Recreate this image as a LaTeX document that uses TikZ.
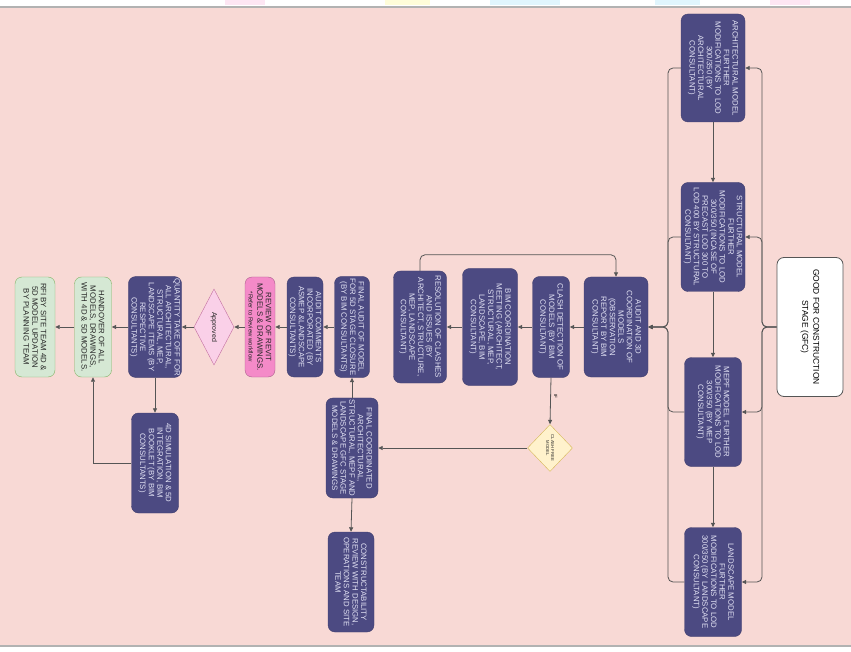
\documentclass[tikz,border=0pt]{standalone}
\usepackage{fontspec}
\setmainfont{Liberation Sans}
\usepackage{xcolor}
\usepackage{tikz}
\usetikzlibrary{shapes.geometric, arrows.meta}
\definecolor{bgpink}{RGB}{248, 217, 213}
\definecolor{navy}{RGB}{76, 74, 130}
\definecolor{navytext}{RGB}{226, 226, 244}
\definecolor{linegray}{RGB}{85, 85, 85}
\definecolor{revpink}{RGB}{244, 138, 200}
\definecolor{okpink}{RGB}{250, 208, 232}
\definecolor{handgreen}{RGB}{213, 232, 212}
\definecolor{handedge}{RGB}{130, 179, 102}
\definecolor{ifyellow}{RGB}{255, 242, 204}
\definecolor{ifedge}{RGB}{214, 182, 86}

\begin{document}
\begin{tikzpicture}[
    x=1pt, y=-1pt,
    box/.style={rectangle, rounded corners=7pt, rotate=-90, align=center,
                inner sep=1.5pt, font=\fontsize{7.8}{8.6}\selectfont},
    modelbox/.style={box, fill=navy, draw=navy!85!black, text=navytext},
    gfcbox/.style={box, fill=white, draw=linegray, thick, font=\fontsize{8.4}{11}\selectfont},
    reviewbox/.style={box, fill=revpink, draw=revpink!70!black, text=black!85},
    handbox/.style={box, fill=handgreen, draw=handedge, text=black!85},
    decision/.style={diamond, rotate=-90, align=center, inner sep=0pt, text=black!85},
    arrow/.style={-{Triangle[length=4.5pt, width=4pt]}, draw=linegray, line width=0.8pt},
]

% page background
\useasboundingbox (0,0) rectangle (851,652);
\fill[white] (0,0) rectangle (851,652);
\fill[cyan!12] (490,0) rectangle (560,5);
\fill[cyan!12] (655,0) rectangle (700,5);
\fill[magenta!10] (225,0) rectangle (265,5);
\fill[magenta!10] (770,0) rectangle (810,5);
\fill[yellow!15] (385,0) rectangle (430,5);
\fill[bgpink] (0,8) rectangle (851,645);
\draw[gray!60, line width=2pt] (0,7) -- (851,7);
\draw[gray!60, line width=2pt] (0,646) -- (851,646);

% models by consultants
\node[modelbox, minimum width=108pt, minimum height=64pt] (arch) at (713,68)
    {ARCHITECTURAL MODEL\\FURTHER\\MODIFICATIONS TO LOD\\300/350 (BY\\ARCHITECTURAL\\CONSULTANT)};
\node[modelbox, minimum width=109pt, minimum height=64pt] (struct) at (713,237)
    {STRUCTURAL MODEL\\FURTHER\\MODIFICATIONS TO LOD\\300/350 (INCASE OF\\PRECAST LOD 300 TO\\LOD 400 BY STRUCTURAL\\CONSULTANT)};
\node[modelbox, minimum width=109pt, minimum height=57pt] (mepf) at (713,412)
    {MEPF MODEL FURTHER\\MODIFICATIONS TO LOD\\300/350 (BY MEP\\CONSULTANT)};
\node[modelbox, minimum width=109pt, minimum height=57pt] (land) at (713,582)
    {LANDSCAPE MODEL\\FURTHER\\MODIFICATIONS TO LOD\\300/350 (BY LANDSCAPE\\CONSULTANT)};
\node[gfcbox, minimum width=139pt, minimum height=66pt] (gfc) at (810,327)
    {GOOD FOR CONSTRUCTION\\STAGE (GFC)};

% coordination loop
\node[modelbox, minimum width=100pt, minimum height=64pt] (audit) at (616,327)
    {AUDIT AND 3D\\COORDINATION OF\\MODELS\\(OBSERVATION\\REPORT BY BIM\\CONSULTANT)};
\node[modelbox, minimum width=101pt, minimum height=37pt] (clash) at (551,327)
    {CLASH DETECTION OF\\MODELS  (BY BIM\\CONSULTANT)};
\node[modelbox, minimum width=117pt, minimum height=55pt] (bimmeet) at (490,327)
    {BIM COORDINATION\\MEETING (ARCHITECT,\\STRUCTURAL, MEP,\\LANDSCAPE, BIM\\CONSULTANT)};
\node[modelbox, minimum width=112pt, minimum height=53pt] (resol) at (420,327)
    {RESOLUTION OF CLASHES\\AND ISSUES (BY\\ARCHITECT, STRUCTURE,\\MEP, LANDSCAPE\\CONSULTANT)};
\node[decision, fill=ifyellow, draw=ifedge, minimum width=47pt, minimum height=45pt,
      font=\fontsize{4.2}{5}\selectfont] (cfree) at (550,448) {CLASH FREE\\MODEL};

% closure and handover
\node[modelbox, minimum width=100pt, minimum height=52pt] (fcoord) at (352,448)
    {FINAL COORDINATED\\ARCHITECTURAL,\\STRUCTURAL, MEPF AND\\LANDSCAPE GFC STAGE\\MODELS \& DRAWINGS};
\node[modelbox, minimum width=100pt, minimum height=46pt] (construct) at (351,582)
    {CONSTRUCTABILITY\\REVIEW WITH DESIGN,\\OPERATIONS AND SITE\\TEAM};
\node[modelbox, minimum width=101pt, minimum height=35pt] (faudit) at (352,327)
    {FINAL AUDIT OF MODEL\\FOR 5D STAGE CLOSURE\\(BY BIM CONSULTANTS)};
\node[modelbox, minimum width=100pt, minimum height=36pt] (acomm) at (305,327)
    {AUDIT COMMENTS\\INCORPORATED (BY\\ASMEP \&LANDSCAPE\\CONSULTANTS)};
\node[reviewbox, minimum width=100pt, minimum height=30pt] (review) at (260,327)
    {REVIEW OF REVIT\\MODELS \& DRAWINGS.\\{\fontsize{6}{7}\selectfont *Refer to Review workflow}};
\node[decision, fill=okpink, draw=revpink!80!black, minimum width=76pt, minimum height=40pt,
      font=\fontsize{7}{8}\selectfont] (approved) at (214,327) {Approved};
\node[modelbox, minimum width=100pt, minimum height=53pt] (qto) at (155,327)
    {QUANTITY TAKE OFF FOR\\ALL ARCHITECTURAL,\\STRUCTURAL, MEP,\\LANDSCAPE ITEMS (BY\\RESPECTIVE\\CONSULTANTS)};
\node[modelbox, minimum width=100pt, minimum height=47pt] (sim4d) at (155,463)
    {4D SIMULATION \& 5D\\INTEGRATION, BIM\\BOOKLET (BY BIM\\CONSULTANTS)};
\node[handbox, minimum width=100pt, minimum height=37pt] (handover) at (93,327)
    {HANDOVER OF ALL\\MODELS, DRAWINGS,\\WITH 4D \& 5D MODELS.};
\node[handbox, minimum width=100pt, minimum height=40pt] (rfi) at (35,327)
    {RFI BY SITE TEAM 4D \&\\5D MODEL UPDATION\\BY PLANNING TEAM};

\coordinate (split) at (762,327);
\coordinate (merge) at (668,327);

\draw[arrow] (arch.east)   -- (struct.west);
\draw[arrow] (struct.east) -- (mepf.west);
\draw[arrow] (mepf.east)   -- (land.west);

\draw[arrow, rounded corners=5pt] (gfc.south) -- (split) |- (arch.north);
\draw[arrow, rounded corners=5pt] (gfc.south) -- (split) |- (struct.north);
\draw[arrow, rounded corners=5pt] (gfc.south) -- (split) |- (mepf.north);
\draw[arrow, rounded corners=5pt] (gfc.south) -- (split) |- (land.north);

\draw[arrow, rounded corners=5pt] (arch.south)   -| (merge) -- (audit.north);
\draw[arrow, rounded corners=5pt] (struct.south) -| (merge) -- (audit.north);
\draw[arrow, rounded corners=5pt] (mepf.south)   -| (merge) -- (audit.north);
\draw[arrow, rounded corners=5pt] (land.south)   -| (merge) -- (audit.north);

\draw[arrow] (audit.south)   -- (clash.north);
\draw[arrow] (clash.south)   -- (bimmeet.north);
\draw[arrow] (bimmeet.south) -- (resol.north);
\draw[arrow, rounded corners=5pt] (resol.west) -- ++(0,-16) -| (audit.west);
\draw[arrow] (clash.east) -- node[pos=0.4, anchor=south, rotate=-90, inner sep=3pt,
    font=\fontsize{4.5}{5}\selectfont]{IF} (cfree.west);
\draw[arrow] (cfree.south) -- (fcoord.north);

\draw[arrow] (fcoord.east)    -- (construct.west);
\draw[arrow] (fcoord.west)    -- (faudit.east);
\draw[arrow] (faudit.south)   -- (acomm.north);
\draw[arrow] (acomm.south)    -- (review.north);
\draw[arrow] (review.south)   -- (approved.north);
\draw[arrow] (approved.south) -- (qto.north);
\draw[arrow] (qto.east)       -- (sim4d.west);
\draw[arrow] (qto.south)      -- (handover.north);
\draw[arrow] (handover.south) -- (rfi.north);
\draw[arrow] (sim4d.south) -| (handover.east);

\end{tikzpicture}
\end{document}
